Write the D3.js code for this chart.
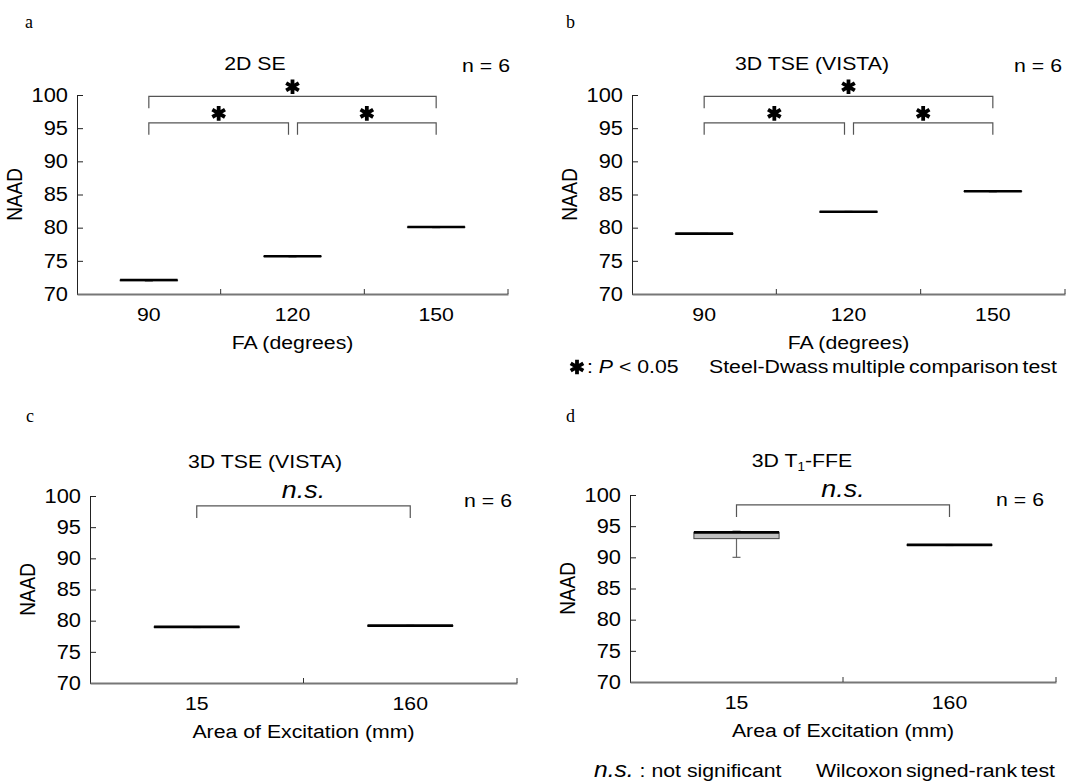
<!DOCTYPE html>
<html>
<head>
<meta charset="utf-8">
<title>NAAD box plots</title>
<script src="https://cdn.jsdelivr.net/npm/d3@7"></script>
<style>
  body { margin: 0; background: #fff; }
  text { font-family: "Liberation Sans", Arial, sans-serif; fill: #000; }
  .letter { font-family: "Liberation Serif", "Times New Roman", serif; font-size: 18px; }
</style>
</head>
<body>
<script>
var W = 1088, H = 782
var SX = 1.12   // text in the figure is a little wider than normal
var FS = 19

var faCats = ["90", "120", "150"]
var areaCats = ["15", "160"]
var yTicks = [70, 75, 80, 85, 90, 95, 100]

// box stats per category: [min, q1, median, q3, max]
var boxA = [[71.95, 72.0, 72.1, 72.1, 72.15], [75.6, 75.65, 75.7, 75.7, 75.75], [80.0, 80.05, 80.1, 80.1, 80.15]]
var boxB = [[79.0, 79.05, 79.1, 79.1, 79.15], [82.3, 82.35, 82.4, 82.4, 82.45], [85.4, 85.45, 85.5, 85.5, 85.55]]
var boxC = [[78.9, 78.95, 79.0, 79.0, 79.05], [79.1, 79.15, 79.2, 79.2, 79.25]]
var boxD = [[90.0, 93.0, 94.0, 94.0, 94.2], [91.9, 91.95, 92.0, 92.0, 92.05]]

// significance brackets: from/to category index, y value
var bracketsFA = [
  {from: 0, to: 2, y: 99.8, mark: "star"},
  {from: 0, to: 1, y: 95.8, mark: "star", dxTo: -4},
  {from: 1, to: 2, y: 95.8, mark: "star", dxFrom: 5}
]
var bracketsArea = [{from: 0, to: 1, y: 98.4, mark: "ns"}]

var panels = [
  {letter: "a", lx: 25, ly: 28, x0: 77, x1: 508, yTop: 95, yBot: 294, cats: faCats, boxes: boxA,
   title: "2D SE", tx: 255, ty: 70, nx: 510, ny: 72, xlab: "FA (degrees)", brackets: bracketsFA},
  {letter: "b", lx: 566, ly: 28, x0: 632, x1: 1065, yTop: 95, yBot: 294, cats: faCats, boxes: boxB,
   title: "3D TSE (VISTA)", tx: 812, ty: 70, nx: 1062, ny: 72, xlab: "FA (degrees)", brackets: bracketsFA},
  {letter: "c", lx: 26, ly: 422, x0: 90, x1: 517, yTop: 496, yBot: 683, cats: areaCats, boxes: boxC,
   title: "3D TSE (VISTA)", tx: 265, ty: 468, nx: 512, ny: 507, xlab: "Area of Excitation (mm)", brackets: bracketsArea},
  {letter: "d", lx: 566, ly: 422, x0: 630, x1: 1056, yTop: 495, yBot: 682, cats: areaCats, boxes: boxD,
   title: "3D T1-FFE", tx: 802, ty: 467, nx: 1044, ny: 506, xlab: "Area of Excitation (mm)", brackets: bracketsArea}
]

var svg = d3.select("body").append("svg").attr("width", W).attr("height", H)

function stretch(sel) {
  sel.each(function() {
    var t = d3.select(this)
    var x = +t.attr("x") || 0
    var y = +t.attr("y") || 0
    var tr = t.attr("transform") || ""
    t.attr("x", 0).attr("y", 0)
     .attr("transform", tr + " translate(" + x + "," + y + ") scale(" + SX + ",1)")
  })
}

function drawStar(g, x, y) {
  g.append("path")
    .attr("d", d3.symbol().type(d3.symbolAsterisk).size(150)())
    .attr("transform", "translate(" + x + "," + y + ")")
    .attr("fill", "none").attr("stroke", "#000").attr("stroke-width", 3.8)
}

panels.forEach(function(p) {
  var g = svg.append("g")
  var x = d3.scaleBand().domain(p.cats).range([p.x0, p.x1]).padding(0)
  var y = d3.scaleLinear().domain([70, 100]).range([p.yBot, p.yTop])
  var bw = x.bandwidth() * 0.4

  g.append("text").attr("class", "letter").attr("x", p.lx).attr("y", p.ly).text(p.letter)

  // y axis, ticks pointing inward
  var ya = g.append("g").attr("transform", "translate(" + p.x0 + ",0)")
    .call(d3.axisLeft(y).tickValues(yTicks).tickSizeInner(-6).tickSizeOuter(0).tickPadding(9))
  ya.select(".domain").attr("stroke", "#222")
  ya.selectAll(".tick line").attr("stroke", "#222")
  ya.selectAll("text").attr("font-size", FS + 0.5).attr("font-family", null)
  stretch(ya.selectAll("text"))

  // x axis
  var xa = g.append("g").attr("transform", "translate(0," + p.yBot + ")")
    .call(d3.axisBottom(x).tickSize(0).tickSizeOuter(0).tickPadding(14))
  xa.select(".domain").attr("stroke", "#777").attr("stroke-width", 2)
  xa.selectAll("text").attr("font-size", FS).attr("font-family", null)
  stretch(xa.selectAll("text"))

  // separators between categories
  g.selectAll(".sep").data(p.cats).enter().append("line")
    .attr("x1", function(d) { return x(d) + x.bandwidth() })
    .attr("x2", function(d) { return x(d) + x.bandwidth() })
    .attr("y1", p.yBot).attr("y2", p.yBot - 5)
    .attr("stroke", "#333")

  // boxes
  var bx = g.selectAll(".box").data(p.boxes).enter().append("g")
    .attr("transform", function(d, i) { return "translate(" + (x(p.cats[i]) + x.bandwidth() / 2) + ",0)" })
  bx.append("line")
    .attr("y1", function(d) { return y(d[0]) }).attr("y2", function(d) { return y(d[4]) })
    .attr("stroke", "#666").attr("stroke-width", 1.2)
  bx.append("line").attr("x1", -4).attr("x2", 4)
    .attr("y1", function(d) { return y(d[0]) }).attr("y2", function(d) { return y(d[0]) })
    .attr("stroke", "#666").attr("stroke-width", 1.2)
  bx.append("line").attr("x1", -4).attr("x2", 4)
    .attr("y1", function(d) { return y(d[4]) }).attr("y2", function(d) { return y(d[4]) })
    .attr("stroke", "#666").attr("stroke-width", 1.2)
  bx.append("rect")
    .attr("x", -bw / 2).attr("width", bw)
    .attr("y", function(d) { return y(d[3]) })
    .attr("height", function(d) { return Math.max(0, y(d[1]) - y(d[3])) })
    .attr("fill", "#c0c0c0").attr("stroke", "#444").attr("stroke-width", 1)
  bx.append("line").attr("x1", -bw / 2).attr("x2", bw / 2)
    .attr("y1", function(d) { return y(d[2]) }).attr("y2", function(d) { return y(d[2]) })
    .attr("stroke", "#000").attr("stroke-width", 2.6)

  // brackets
  p.brackets.forEach(function(b) {
    var xa0 = x(p.cats[b.from]) + x.bandwidth() / 2 + (b.dxFrom || 0)
    var xa1 = x(p.cats[b.to]) + x.bandwidth() / 2 + (b.dxTo || 0)
    var yy = y(b.y)
    g.append("path")
      .attr("d", "M" + xa0 + "," + (yy + 12) + "V" + yy + "H" + xa1 + "V" + (yy + 12))
      .attr("fill", "none").attr("stroke", "#555").attr("stroke-width", 1.2)
    var mx = (xa0 + xa1) / 2
    if (b.mark == "star") drawStar(g, mx, yy - 9.5)
    else {
      var t = g.append("text").attr("x", mx).attr("y", yy - 8).attr("text-anchor", "middle")
        .attr("font-size", 24).attr("font-style", "italic").text("n.s.")
      stretch(t)
    }
  })

  // title
  var tt = g.append("text").attr("x", p.tx).attr("y", p.ty).attr("text-anchor", "middle").attr("font-size", FS)
  if (p.title == "3D T1-FFE") {
    tt.append("tspan").text("3D T")
    tt.append("tspan").attr("font-size", 12).attr("dy", 4).text("1")
    tt.append("tspan").attr("dy", -4).text("-FFE")
  } else tt.text(p.title)
  stretch(tt)

  stretch(g.append("text").attr("x", p.nx).attr("y", p.ny).attr("text-anchor", "end").attr("font-size", FS).text("n = 6"))

  stretch(g.append("text").attr("x", (p.x0 + p.x1) / 2).attr("y", p.yBot + 55)
    .attr("text-anchor", "middle").attr("font-size", FS).text(p.xlab))

  g.append("text")
    .attr("transform", "translate(" + (p.x0 - 55) + "," + ((p.yTop + p.yBot) / 2) + ") scale(" + SX + ",1) rotate(-90)")
    .attr("text-anchor", "middle").attr("font-size", FS).text("NAAD")
})

// legends
drawStar(svg, 577, 367)
var l1 = svg.append("text").attr("x", 587).attr("y", 373).attr("font-size", FS)
l1.append("tspan").text(": ")
l1.append("tspan").attr("font-style", "italic").text("P")
l1.append("tspan").text(" < 0.05")
stretch(l1)
stretch(svg.append("text").attr("x", 709).attr("y", 373).attr("font-size", FS).attr("word-spacing", -2)
  .text("Steel-Dwass multiple comparison test"))

var l2 = svg.append("text").attr("x", 594).attr("y", 777).attr("font-size", FS)
l2.append("tspan").attr("font-size", 22).attr("font-style", "italic").text("n.s.")
l2.append("tspan").text(" : not significant")
stretch(l2)
stretch(svg.append("text").attr("x", 816).attr("y", 777).attr("font-size", FS).attr("word-spacing", -2)
  .text("Wilcoxon signed-rank test"))
</script>
</body>
</html>
